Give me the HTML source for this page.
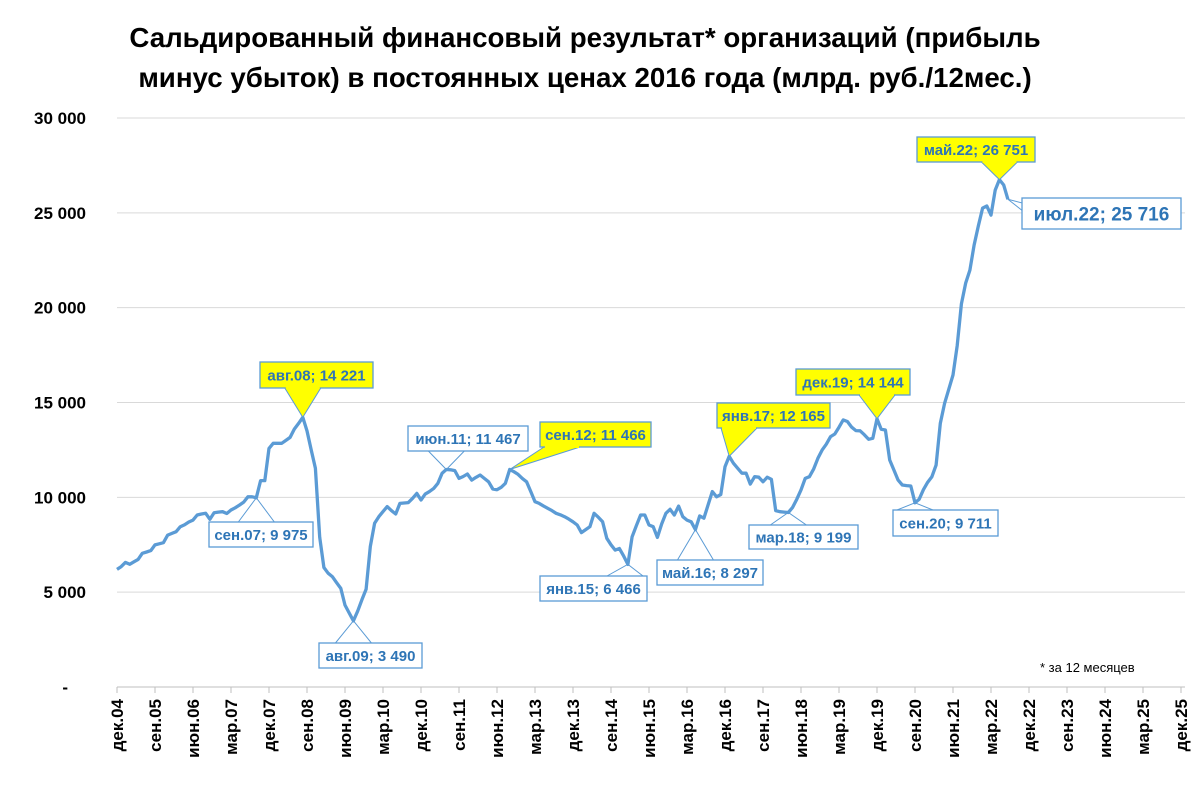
<!DOCTYPE html>
<html><head><meta charset="utf-8">
<style>
body{margin:0;background:#fff;}
svg{display:block;font-family:"Liberation Sans",sans-serif;}
</style></head>
<body>
<svg id="chart" width="1200" height="785" viewBox="0 0 1200 785">
<rect x="0" y="0" width="1200" height="785" fill="#fff"/>
<text x="585" y="47" text-anchor="middle" font-size="27.7" font-weight="bold" fill="#000">Сальдированный финансовый результат* организаций (прибыль</text>
<text x="585" y="87" text-anchor="middle" font-size="27.7" font-weight="bold" fill="#000">минус убыток) в постоянных ценах 2016 года (млрд. руб./12мес.)</text>
<g id="grid"></g>
<g id="yaxis"></g>
<g id="xaxis"></g>
<g id="series"></g>
<g id="notes"></g>
<text x="1040" y="672" font-size="13" fill="#000">* за 12 месяцев</text>
</svg>
<script>
const yTicks = [0, 5000, 10000, 15000, 20000, 25000, 30000];
const yTickLabels = ["-", "5 000", "10 000", "15 000", "20 000", "25 000", "30 000"];
const xTickLabels = ["дек.04","сен.05","июн.06","мар.07","дек.07","сен.08","июн.09","мар.10","дек.10","сен.11","июн.12","мар.13","дек.13","сен.14","июн.15","мар.16","дек.16","сен.17","июн.18","мар.19","дек.19","сен.20","июн.21","мар.22","дек.22","сен.23","июн.24","мар.25","дек.25"];
const values = [
6200,6350,6570,6470,6600,6730,7050,7120,7190,7490,7550,7610,
8010,8100,8190,8450,8550,8700,8800,9070,9120,9160,8840,9190,
9220,9240,9150,9330,9450,9590,9750,10030,10030,9975,10880,10880,
12580,12850,12850,12850,13000,13160,13600,13900,14221,13500,12500,11530,
7900,6300,6000,5820,5500,5200,4320,3900,3490,4000,4600,5150,
7400,8630,8980,9250,9510,9300,9120,9680,9700,9720,9950,10210,
9860,10170,10300,10470,10740,11270,11467,11450,11410,11000,11100,11230,
10910,11050,11180,11000,10820,10440,10400,10530,10740,11466,11350,11210,
11000,10820,10300,9770,9680,9550,9420,9300,9160,9080,8980,8850,
8710,8540,8140,8300,8450,9160,8950,8710,7840,7500,7220,7300,
6900,6466,7920,8500,9070,9070,8540,8450,7890,8600,9160,9370,
9070,9540,8980,8800,8710,8297,9020,8900,9600,10300,10030,10150,
11610,12165,11800,11530,11270,11270,10700,11090,11060,10820,11060,10950,
9300,9240,9220,9199,9470,9900,10390,11000,11090,11500,12060,12490,
12800,13200,13340,13700,14080,14000,13700,13520,13510,13300,13060,13110,
14144,13590,13550,11970,11440,10910,10650,10620,10600,9711,9900,10400,
10800,11090,11700,13900,14960,15700,16450,18000,20200,21300,21980,23300,
24300,25250,25360,24880,26200,26751,26470,25716];
const noteIdx = [44, 33, 56, 78, 93, 121, 137, 145, 159, 180, 189, 209, 211];
const noteLabels = ["авг.08","сен.07","авг.09","июн.11","сен.12","янв.15","май.16","янв.17","мар.18","дек.19","сен.20","май.22","июл.22"];
const noteYellow = [true,false,false,false,true,false,false,true,false,true,false,true,false];
// box layout [x, y, w, h]
const noteBoxes = [[260,362,113,26],[209,522,104,25],[319,643,103,25],[408,426,120,25],[540,422,111,25],[540,576,107,25],[657,560,106,25],[717,403,113,25],[749,525,109,24],[796,369,114,26],[893,510,105,26],[917,137,118,25],[1022,198,159,31]];

const NS = "http://www.w3.org/2000/svg";
const X0 = 117, PXM = 38/9, Y0 = 687, PXV = 569/30000;
function xs(i){ return X0 + i*PXM; }
function ys(v){ return Y0 - v*PXV; }
function mk(tag, attrs, parent){ const e=document.createElementNS(NS,tag); for(const k in attrs) e.setAttribute(k,attrs[k]); parent.appendChild(e); return e; }
function fmt(v){ return String(v).replace(/\B(?=(\d{3})+(?!\d))/g," "); }

const grid=document.getElementById("grid"), ya=document.getElementById("yaxis"), xa=document.getElementById("xaxis");
yTicks.forEach((t,k)=>{
  if(t>0){
    const l=mk("line",{x1:X0,x2:1185,y1:ys(t),y2:ys(t),stroke:"#d9d9d9","stroke-width":1},grid);
    
    
  }
  const tx=mk("text",{x:k===0?68:86,y:ys(t)+6,"text-anchor":"end","font-size":17,"font-weight":"bold",fill:"#000"},ya);
  tx.textContent=yTickLabels[k];
  
  
});
const ax=mk("line",{x1:X0,x2:1185,y1:Y0,y2:Y0,stroke:"#bfbfbf","stroke-width":1},xa);


xTickLabels.forEach((lab,k)=>{
  const x=xs(k*9);
  const tk=mk("line",{x1:x,x2:x,y1:Y0,y2:Y0+6,stroke:"#bfbfbf"},xa);
  
  
  const tx=mk("text",{x:x+6,y:Y0+12,"text-anchor":"end","font-size":17,"font-weight":"bold",fill:"#000",transform:`rotate(-90 ${x+6} ${Y0+12})`},xa);
  tx.textContent=lab;
  
  
});

const ser=document.getElementById("series");
const pl=mk("polyline",{points:values.map((v,i)=>xs(i).toFixed(1)+","+ys(v).toFixed(1)).join(" "),fill:"none",stroke:"#5b9bd5","stroke-width":3.3,"stroke-linejoin":"round"},ser);



const notes=document.getElementById("notes");
noteIdx.forEach((idx,k)=>{
  const g=mk("g",{},notes);
  
  
  const [bx,by,bw,bh]=noteBoxes[k];
  const px=xs(idx), py=ys(values[idx]);
  const cx=bx+bw/2, cy=by+bh/2;
  const below = py>by+bh, above = py<by;
  let ay = below? by+bh : (above? by : cy);
  const w1 = Math.min(bw*0.18, 18);
  const fill = noteYellow[k] ? "#ffff00" : "#ffffff";
  const ax1 = Math.max(bx+4, Math.min(bx+bw-4-w1*2, px - w1));
  const tail=mk("polygon",{points:`${ax1},${ay} ${px},${py} ${ax1+w1*2},${ay}`,fill:noteYellow[k]?fill:"none",stroke:"#5b9bd5","stroke-width":1},g);
  
  
  const r=mk("rect",{x:bx,y:by,width:bw,height:bh,fill:fill,stroke:"#5b9bd5","stroke-width":1.3},g);
  
  
  if(noteYellow[k]){
    const cover=mk("line",{x1:ax1+1,x2:ax1+w1*2-1,y1:ay,y2:ay,stroke:fill,"stroke-width":2},g);
    
    
  }
  const big = k===noteIdx.length-1;
  const t=mk("text",{x:cx,y:cy+(big?7:5.5),"text-anchor":"middle","font-size":big?19:15,"font-weight":"bold",fill:"#2e75b6"},g);
  t.textContent=noteLabels[k]+";  "+fmt(values[idx]);
  
  
});
</script>
</body></html>
